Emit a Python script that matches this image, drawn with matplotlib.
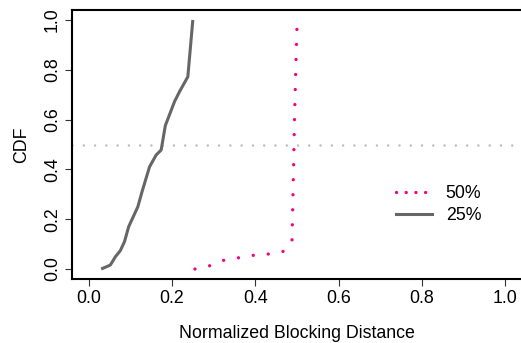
import matplotlib
matplotlib.use("Agg")
import matplotlib.pyplot as plt
from matplotlib.lines import Line2D

plt.rcParams["font.family"] = ["Liberation Sans", "DejaVu Sans"]
plt.rcParams["font.size"] = 12.8

# 25% curve (grey solid)
dist_25 = [0.030, 0.052, 0.064, 0.076, 0.086, 0.096, 0.118, 0.128, 0.146,
           0.162, 0.174, 0.184, 0.206, 0.218, 0.238, 0.250]
cdf_25 = [0.000, 0.016, 0.049, 0.074, 0.110, 0.170, 0.250, 0.310, 0.410,
          0.458, 0.478, 0.576, 0.672, 0.712, 0.772, 1.000]

# 50% curve (pink dotted)
dist_50 = [0.255, 0.290, 0.324, 0.359, 0.395, 0.430, 0.466, 0.488, 0.491,
           0.494, 0.497, 0.500]
cdf_50 = [0.000, 0.013, 0.035, 0.045, 0.055, 0.060, 0.070, 0.111, 0.350,
          0.600, 0.800, 0.975]

x_ticks = [0.0, 0.2, 0.4, 0.6, 0.8, 1.0]
y_ticks = [0.0, 0.2, 0.4, 0.6, 0.8, 1.0]
ref_level = 0.5

pink = "#F0047F"
grey = "#666666"

fig = plt.figure(figsize=(5.21, 3.43), dpi=100)
ax = fig.add_axes([72 / 521, 64 / 343, 450 / 521, 269 / 343])

ax.axhline(ref_level, color="#bbbbbb", lw=1.8, linestyle=(0, (0.01, 4.5)),
           dash_capstyle="round")
ax.plot(dist_50, cdf_50, color=pink, lw=2.4, linestyle=(0, (0.01, 4.5)),
        dash_capstyle="round")
ax.plot(dist_25, cdf_25, color=grey, lw=2.2, solid_capstyle="butt")

ax.set_xlim(-0.04, 1.04)
ax.set_ylim(-0.04, 1.04)
ax.set_xticks(x_ticks)
ax.set_yticks(y_ticks)
ax.set_xticklabels([f"{v:.1f}" for v in x_ticks])
ax.set_yticklabels([f"{v:.1f}" for v in y_ticks], rotation=90, va="center")

for s in ax.spines.values():
    s.set_linewidth(1.5)
    s.set_color("black")
ax.spines["right"].set_visible(False)
ax.tick_params(direction="out", length=5, width=0.8, color="#333333", pad=3)

ax.set_xlabel("Normalized Blocking Distance", labelpad=13)
ax.set_ylabel("CDF", labelpad=10)

handles = [
    Line2D([], [], color=pink, lw=2.4, linestyle=(0, (0.01, 2.9)), dash_capstyle="round"),
    Line2D([], [], color=grey, lw=2.2),
]
ax.legend(handles, ["50%", "25%"], frameon=False, loc="upper left",
          bbox_to_anchor=(396 / 521, (343 - 185) / 343), bbox_transform=fig.transFigure,
          handlelength=2.0, handletextpad=0.8, labelspacing=0.3,
          borderaxespad=0, borderpad=0)

fig.savefig("out.png", dpi=100)
